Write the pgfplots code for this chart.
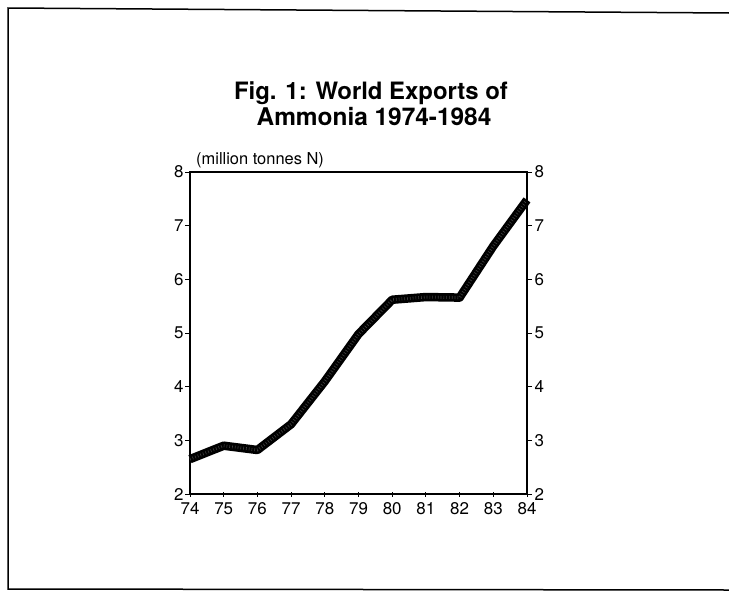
\documentclass[border=0pt]{standalone}
\usepackage{fontspec}
\setmainfont{TeX Gyre Heros}
\usepackage{pgfplots}
\pgfplotsset{compat=1.18}
\pgfplotstableread{
year value
74 2.65
75 2.90
76 2.82
77 3.30
78 4.10
79 4.98
80 5.62
81 5.67
82 5.66
83 6.62
84 7.48
}\exports
\begin{document}
\begin{tikzpicture}
\useasboundingbox (0,0) rectangle (729bp,-593bp);
\draw[line width=1.5bp] (729bp,-13bp) -- (8bp,-8bp) -- (8bp,-589bp) -- (729bp,-590bp);
\node[font=\bfseries\fontsize{24}{27}\selectfont, anchor=base] at (371bp,-99bp) {Fig. 1: World Exports of};
\node[font=\bfseries\fontsize{24.5}{27}\selectfont, anchor=base] at (374bp,-125bp) {Ammonia 1974-1984};
\node[font=\fontsize{16.5}{18}\selectfont, anchor=base west, inner sep=0pt] at (196bp,-164bp) {(million tonnes N)};
\begin{axis}[
  at={(190bp,-494bp)}, anchor=south west,
  scale only axis, width=337bp, height=322bp,
  xmin=74, xmax=84, ymin=2, ymax=8,
  xtick={74,...,84}, ytick={2,...,8},
  xtick pos=bottom, ytick pos=left,
  tick align=outside,
  major tick length=5bp,
  axis line style={line width=1.4bp},
  tick style={line width=1bp, black},
  x tick style={yshift=2.5bp},
  ticklabel style={font=\fontsize{17}{19}\selectfont},
  xticklabel style={yshift=0bp},
  yticklabel style={xshift=2bp},
  /pgf/number format/assume math mode=true,
  clip=false,
]
\addplot[black, line width=8.5bp, line join=round, line cap=butt] table[x=year, y=value] {\exports};
\addplot[gray!50!black, line width=3bp, line join=round, dash pattern=on 0.6bp off 2.2bp] table[x=year, y=value] {\exports};
\end{axis}
\begin{axis}[
  at={(190bp,-494bp)}, anchor=south west,
  scale only axis, width=337bp, height=322bp,
  xmin=74, xmax=84, ymin=2, ymax=8,
  axis x line=none, axis y line*=right,
  ytick={2,...,8},
  ytick pos=right, yticklabel pos=right,
  tick align=outside,
  major tick length=5bp,
  axis line style={line width=1.4bp},
  tick style={line width=1bp, black},
  ticklabel style={font=\fontsize{17}{19}\selectfont},
  yticklabel style={xshift=-1bp},
  /pgf/number format/assume math mode=true,
]
\addplot[draw=none] coordinates {(74,2)};
\end{axis}
\end{tikzpicture}
\end{document}
